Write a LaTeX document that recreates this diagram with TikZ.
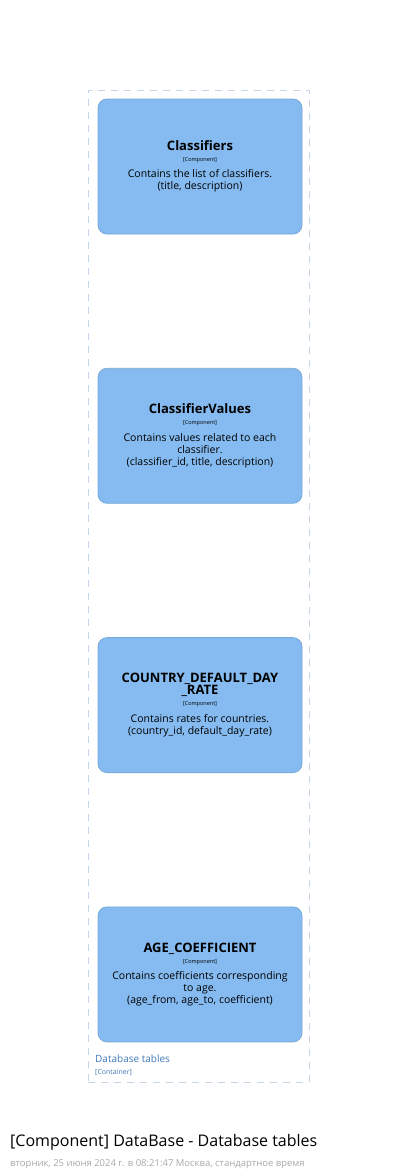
\documentclass[tikz,border=0pt]{standalone}
\usepackage{fontspec}
\setmainfont{Open Sans}
\usepackage{xcolor}
\definecolor{cfBlue}{HTML}{85BBF0}
\definecolor{cfEdge}{HTML}{78A8D8}
\definecolor{cfBound}{HTML}{C6D6EA}
\definecolor{cfLabel}{HTML}{3E78B8}
\definecolor{cfGrey}{HTML}{A8A8A8}
\newcommand{\namefont}{\fontsize{13}{15}\selectfont\bfseries}
\newcommand{\metafont}{\fontsize{5.5}{6}\selectfont}

\begin{document}
\begin{tikzpicture}[x=1pt,y=-1pt]
    \pgfmathsetmacro{\gap}{269.3}
    \tikzset{
        tablebox/.style={fill=cfBlue,draw=cfEdge,line width=0.8pt,rounded corners=9pt,
            minimum width=204pt,minimum height=135pt,inner sep=0pt,align=center,
            font=\fontsize{10.5}{12}\selectfont},
        boundbox/.style={draw=cfBound,line width=1pt,dash pattern=on 7pt off 6pt,
            minimum width=221pt,minimum height=992pt,inner sep=0pt},
    }
    \useasboundingbox (0,0) rectangle (400,1173);
    \node[boundbox] (bound) at (198.5,586) {};
    \foreach \i/\nm/\ds in {
        1/{Classifiers}/{Contains the list of classifiers.\\(title, description)},
        2/{ClassifierValues}/{Contains values related to each\\classifier.\\(classifier\_id, title, description)},
        3/{COUNTRY\_DEFAULT\_DAY\\\namefont\_RATE}/{Contains rates for countries.\\(country\_id, default\_day\_rate)},
        4/{AGE\_COEFFICIENT}/{Contains coefficients corresponding\\to age.\\(age\_from, age\_to, coefficient)}}{
        \node[tablebox] (t\i) at (200,{166.5+(\i-1)*\gap})
            {\namefont \nm\\[-1pt]
             \metafont [Component]\\[4.5pt]
             \ds};
    }
    \node[anchor=base west,inner sep=0pt,text=cfLabel,font=\fontsize{10}{12}\selectfont]
        (blabel) at (95,1062) {Database tables};
    \node[anchor=base west,inner sep=0pt,text=cfLabel,font=\fontsize{7}{8}\selectfont]
        (bmeta) at (95,1074) {[Container]};
    % title and footer
    \node[anchor=base west,inner sep=0pt,font=\fontsize{16}{19}\selectfont]
        (title) at (10,1146) {[Component] DataBase - Database tables};
    \node[anchor=base west,inner sep=0pt,text=cfGrey,font=\fontsize{9.5}{11}\selectfont]
        (footer) at (10,1166) {вторник, 25 июня 2024 г. в 08:21:47 Москва, стандартное время};
\end{tikzpicture}
\end{document}
